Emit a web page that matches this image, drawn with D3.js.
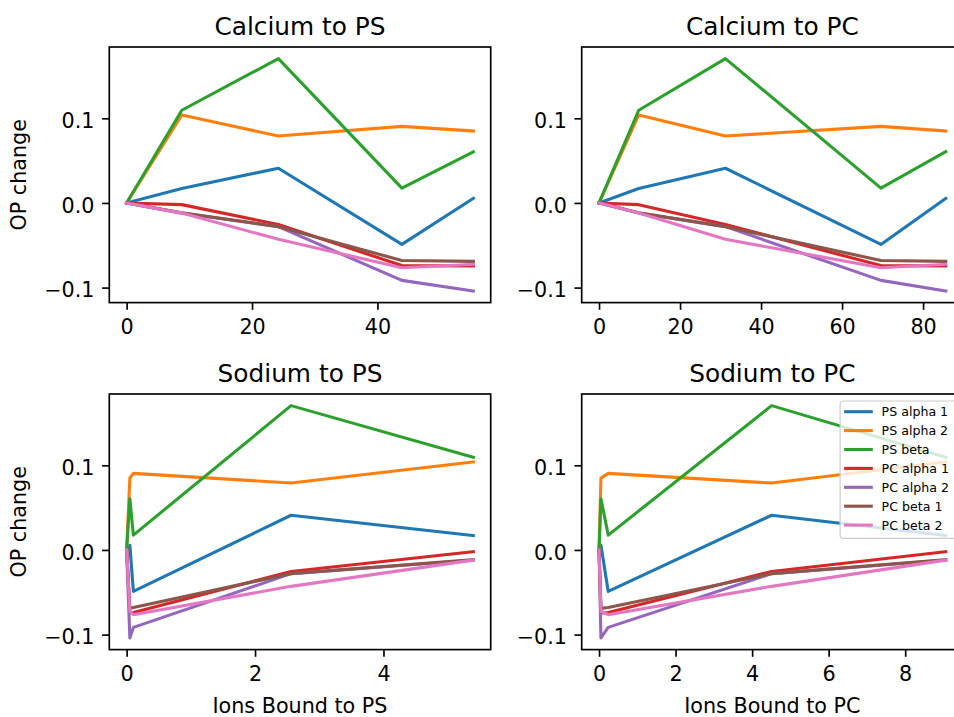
<!DOCTYPE html>
<html>
<head>
<meta charset="utf-8">
<script src="https://cdn.jsdelivr.net/npm/d3@7"></script>
<style>
  body { margin: 0; background: #fff; }
  svg { display: block; overflow: hidden; }
</style>
</head>
<body>
<div id="chart"></div>
<script>
'use strict'

// x values (ions bound), index aligned with the series below
const calciumPSx = [0, 8.8, 24.2, 43.9, 55.3];
const calciumPCx = [0, 9.8, 31.2, 69.6, 85.6];
const sodiumPSx = [0, 5.4, 2.56, 0.105, 0.05];
const sodiumPCx = [0, 9.06, 4.51, 0.24, 0.05];

// OP change, same for every panel
const psAlpha1 = [0, 0.017, 0.041, -0.049, 0.0055];
const psAlpha2 = [0, 0.104, 0.079, 0.0905, 0.085];
const psBeta = [0, 0.1095, 0.1705, 0.0175, 0.0605];
const pcAlpha1 = [0, -0.002, -0.0255, -0.074, -0.0745];
const pcAlpha2 = [0, -0.012, -0.028, -0.0915, -0.104];
const pcBeta1 = [0, -0.0115, -0.028, -0.068, -0.069];
const pcBeta2 = [0, -0.012, -0.043, -0.0765, -0.0725];

const seriesNames = ['PS alpha 1', 'PS alpha 2', 'PS beta', 'PC alpha 1', 'PC alpha 2', 'PC beta 1', 'PC beta 2'];
const seriesValues = [psAlpha1, psAlpha2, psBeta, pcAlpha1, pcAlpha2, pcBeta1, pcBeta2];
const colors = ['#1f77b4', '#ff7f0e', '#2ca02c', '#d62728', '#9467bd', '#8c564b', '#e377c2'];

const titles = ['Calcium to PS', 'Calcium to PC', 'Sodium to PS', 'Sodium to PC'];
const xLabels = ['Ions Bound to PS', 'Ions Bound to PC'];
const yTicks = [-0.1, 0.0, 0.1];
const xTicks = [[0, 20, 40], [0, 20, 40, 60, 80], [0, 2, 4], [0, 2, 4, 6, 8]];

const width = 954;
const height = 717;
const colLeft = [109.3, 581.7];
const rowTop = [47, 394];
const axW = 381.4;
const axH = 255.6;
const tickFont = 20.7;

const panels = [
  { title: titles[0], xs: calciumPSx, ticks: xTicks[0], col: 0, row: 0 },
  { title: titles[1], xs: calciumPCx, ticks: xTicks[1], col: 1, row: 0 },
  { title: titles[2], xs: sodiumPSx, ticks: xTicks[2], col: 0, row: 1 },
  { title: titles[3], xs: sodiumPCx, ticks: xTicks[3], col: 1, row: 1 }
];

// matplotlib style 5% margins
const pad = (ext) => {
  const m = (ext[1] - ext[0]) * 0.05;
  return [ext[0] - m, ext[1] + m];
};
const minus = (s) => s.replace('-', '\u2212');

const allY = [].concat(...seriesValues);
const yDomain = pad(d3.extent(allY));

const svg = d3.select('#chart')
  .append('svg')
    .attr('width', width)
    .attr('height', height)
    .style('font-family', "'DejaVu Sans', sans-serif");

svg.append('rect')
  .attr('width', width)
  .attr('height', height)
  .attr('fill', '#fff');

panels.forEach((p) => {
  const g = svg.append('g')
    .attr('transform', 'translate(' + colLeft[p.col] + ',' + rowTop[p.row] + ')');

  const x = d3.scaleLinear().domain(pad(d3.extent(p.xs))).range([0, axW]);
  const y = d3.scaleLinear().domain(yDomain).range([axH, 0]);

  const line = d3.line()
    .x(d => x(d[0]))
    .y(d => y(d[1]));

  seriesValues.forEach((vals, i) => {
    const pts = p.xs.map((v, j) => [v, vals[j]]).sort((a, b) => a[0] - b[0]);
    g.append('path')
      .datum(pts)
      .attr('d', line)
      .attr('fill', 'none')
      .attr('stroke', colors[i])
      .attr('stroke-width', 3.1)
      .attr('stroke-linejoin', 'round')
      .attr('stroke-linecap', 'square');
  });

  // axes
  const xAxis = g.append('g')
    .attr('transform', 'translate(0,' + axH + ')')
    .call(d3.axisBottom(x).tickValues(p.ticks).tickSize(7.2).tickPadding(9.6)
      .tickFormat(d3.format('d')));
  const yAxis = g.append('g')
    .call(d3.axisLeft(y).tickValues(yTicks).tickSize(7.2).tickPadding(7.6)
      .tickFormat(d => minus(d3.format('.1f')(d))));

  [xAxis, yAxis].forEach((a) => {
    a.select('.domain').remove();
    a.attr('font-family', null).attr('font-size', tickFont);
    a.selectAll('.tick line').attr('stroke', '#000').attr('stroke-width', 1.66);
    a.selectAll('.tick text').attr('fill', '#000');
  });
  yAxis.selectAll('.tick text').attr('dy', '0.44em');

  g.append('rect')
    .attr('width', axW)
    .attr('height', axH)
    .attr('fill', 'none')
    .attr('stroke', '#000')
    .attr('stroke-width', 1.66);

  g.append('text')
    .attr('x', axW / 2)
    .attr('y', -12.4)
    .attr('text-anchor', 'middle')
    .attr('font-size', 24.8)
    .text(p.title);

  if (p.col === 0) {
    g.append('text')
      .attr('transform', 'translate(' + (26 - colLeft[0]) + ',' + (axH / 2) + ') rotate(-90)')
      .attr('text-anchor', 'middle')
      .attr('font-size', tickFont)
      .text('OP change');
  }
  if (p.row === 1) {
    g.append('text')
      .attr('x', axW / 2)
      .attr('y', 712.7 - rowTop[1])
      .attr('text-anchor', 'middle')
      .attr('font-size', tickFont)
      .text(xLabels[p.col]);
  }

  // legend only in the last panel
  if (p.col === 1 && p.row === 1) {
    const lg = g.append('g')
      .attr('transform', 'translate(' + (axW - 123) + ',7)');
    lg.append('rect')
      .attr('width', 117)
      .attr('height', 137.3)
      .attr('rx', 3)
      .attr('fill', 'rgba(255,255,255,0.8)')
      .attr('stroke', '#cccccc')
      .attr('stroke-width', 1.2);
    seriesNames.forEach((name, i) => {
      const row = lg.append('g')
        .attr('transform', 'translate(0,' + (10.7 + i * 18.9) + ')');
      row.append('line')
        .attr('x1', 4)
        .attr('x2', 32.7)
        .attr('stroke', colors[i])
        .attr('stroke-width', 3.1);
      row.append('text')
        .attr('x', 41.5)
        .attr('dy', '0.36em')
        .attr('font-size', 12.6)
        .text(name);
    });
  }
});
</script>
</body>
</html>
